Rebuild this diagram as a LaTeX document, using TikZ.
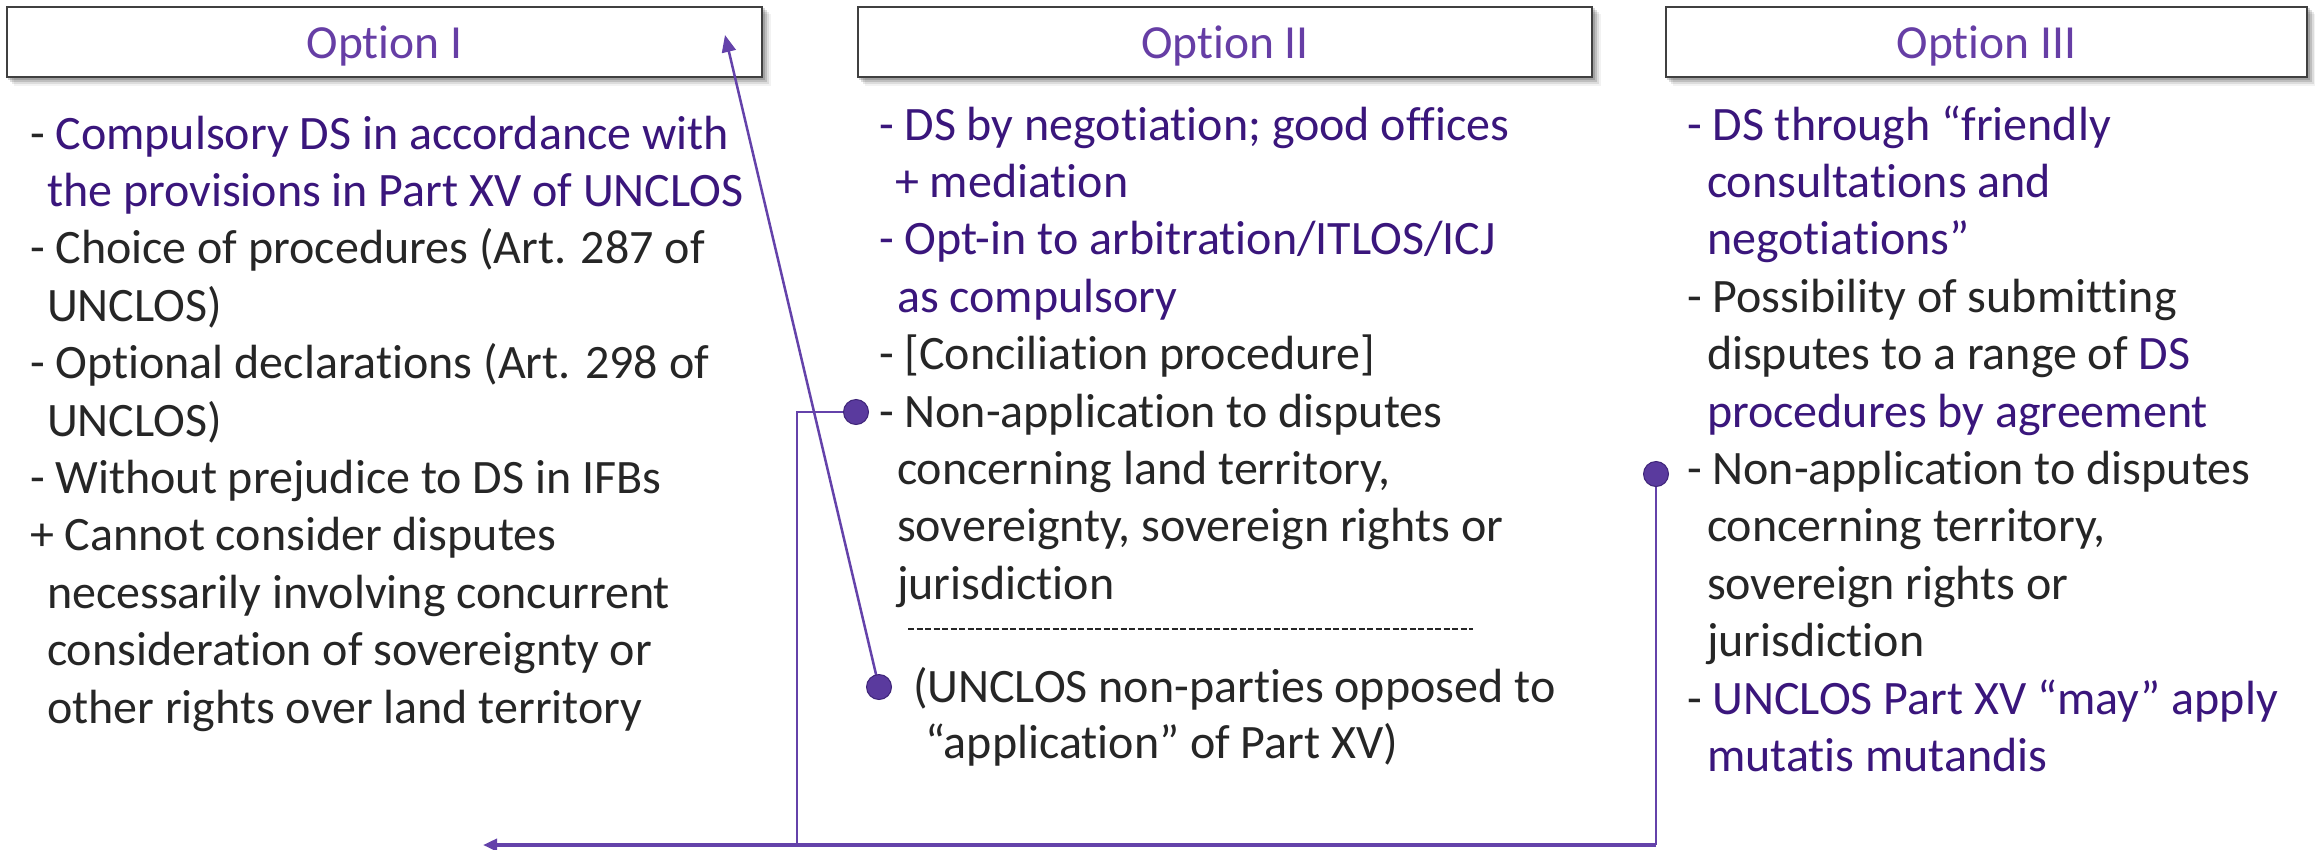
\documentclass[tikz,border=0pt]{standalone}
\usepackage{fontspec}
\setmainfont{Carlito}[Ligatures=NoCommon]
\usetikzlibrary{arrows.meta,backgrounds}
\definecolor{bodypur}{RGB}{58,22,124}
\definecolor{titlepur}{RGB}{102,62,165}
\definecolor{linepur}{RGB}{100,66,170}
\definecolor{dotfill}{RGB}{90,58,158}
\definecolor{dotdraw}{RGB}{62,36,120}
\definecolor{txtgray}{RGB}{38,38,38}
\definecolor{boxline}{RGB}{64,64,64}
\newcommand\pur[1]{\textcolor{bodypur}{#1}}
\begin{document}
\begin{tikzpicture}[x=1pt,y=-1pt,
  txt/.style={anchor=base west, inner sep=0pt, outer sep=0pt, text=txtgray, font=\fontsize{48}{57}\selectfont},
  optbox/.style={draw=boxline, line width=2.3pt, fill=white, inner sep=0pt, minimum height=70pt, text height=32pt, text depth=0pt, text=titlepur, font=\fontsize{47.5}{57}\selectfont},
  dot/.style={circle, fill=dotfill, draw=dotdraw, line width=1pt, minimum size=25pt, inner sep=0pt},
  conn/.style={draw=linepur, line width=2pt},
  sepline/.style={draw=txtgray, line width=1.5pt, dash pattern=on 6pt off 2.5pt}
]
\useasboundingbox (0,0) rectangle (2315,849);

% title boxes
\node[optbox, minimum width=755pt] (b1) at (384.5,42) {Option I};
\node[optbox, minimum width=734pt] (b2) at (1225,42) {Option II};
\node[optbox, minimum width=641pt] (b3) at (1986.5,42) {Option III};

\begin{scope}[on background layer]
  \fill[white] (0,0) rectangle (2315,849);
  \foreach \b in {b1,b2,b3}{
    \foreach \s/\o in {2/0.16,4/0.13,6/0.09,8/0.05}{
      \fill[black, opacity=\o] ([xshift=\s pt, yshift=-\s pt]\b.south west) rectangle ([xshift=\s pt, yshift=-\s pt]\b.north east);
    }
  }
\end{scope}

% column 1
\node[txt] (a0) at (30,149) {- \pur{Compulsory DS in accordance with}};
\node[txt] (a1) at (47,206.4) {\pur{the provisions in Part XV of UNCLOS}};
\node[txt] (a2) at (30,263.8) {- Choice of procedures (Art. 287 of};
\node[txt] (a3) at (47,321.2) {UNCLOS)};
\node[txt] (a4) at (30,378.6) {- Optional declarations (Art. 298 of};
\node[txt] (a5) at (47,436) {UNCLOS)};
\node[txt] (a6) at (30,493.4) {- Without prejudice to DS in IFBs};
\node[txt] (a7) at (30,550.8) {+ Cannot consider disputes};
\node[txt] (a8) at (47,608.2) {necessarily involving concurrent};
\node[txt] (a9) at (47,665.6) {consideration of sovereignty or};
\node[txt] (a10) at (47,723) {other rights over land territory};

% column 2
\node[txt] (m0) at (879,140) {\pur{- DS by negotiation; good offices}};
\node[txt] (m1) at (895,197.4) {\pur{+ mediation}};
\node[txt] (m2) at (879,254.8) {\pur{- Opt-in to arbitration/ITLOS/ICJ}};
\node[txt] (m3) at (897,312.2) {\pur{as compulsory}};
\node[txt] (m4) at (879,369.6) {- [Conciliation procedure]};
\node[txt] (m5) at (879,427) {- Non-application to disputes};
\node[txt] (m6) at (897,484.4) {concerning land territory,};
\node[txt] (m7) at (897,541.8) {sovereignty, sovereign rights or};
\node[txt] (m8) at (897,599.2) {jurisdiction};
\node[txt] (m9) at (913,702) {(UNCLOS non-parties opposed to};
\node[txt] (m10) at (925,758) {“application” of Part XV)};
\coordinate (dl1) at (908,629);
\coordinate (dl2) at (1473,629);
\draw[sepline] (dl1) -- (dl2);

% column 3
\node[txt] (r0) at (1687,140) {\pur{- DS through “friendly}};
\node[txt] (r1) at (1707,197.4) {\pur{consultations and}};
\node[txt] (r2) at (1707,254.8) {\pur{negotiations”}};
\node[txt] (r3) at (1687,312.2) {- Possibility of submitting};
\node[txt] (r4) at (1707,369.6) {disputes to a range of \pur{DS}};
\node[txt] (r5) at (1707,427) {\pur{procedures by agreement}};
\node[txt] (r6) at (1687,484.4) {- Non-application to disputes};
\node[txt] (r7) at (1707,541.8) {concerning territory,};
\node[txt] (r8) at (1707,599.2) {sovereign rights or};
\node[txt] (r9) at (1707,656.6) {jurisdiction};
\node[txt] (r10) at (1687,714) {- \pur{UNCLOS Part XV “may” apply}};
\node[txt] (r11) at (1707,771.4) {\pur{mutatis mutandis}};

% connectors
\coordinate (p2a) at (856,412);
\coordinate (p2b) at (879,687);
\coordinate (p3) at (1656,474);
\coordinate (tipI) at (725,35);
\coordinate (jn) at (797,845);
\coordinate (c3) at (1656,845);
\coordinate (tipL) at (483,845);
\draw[conn, line width=2.5pt, -{Triangle[length=17pt,width=14pt]}] (p2b) -- (tipI);
\draw[conn, line width=1.5pt] (p2a) -| (jn);
\draw[conn, line width=2pt] (p3) -- (c3);
\draw[conn, line width=3.5pt, -{Triangle[length=14pt,width=12pt]}] (c3) -- (tipL);

% dots
\node[dot] (d2a) at (p2a) {};
\node[dot] (d2b) at (p2b) {};
\node[dot] (d3) at (p3) {};
\end{tikzpicture}
\end{document}
